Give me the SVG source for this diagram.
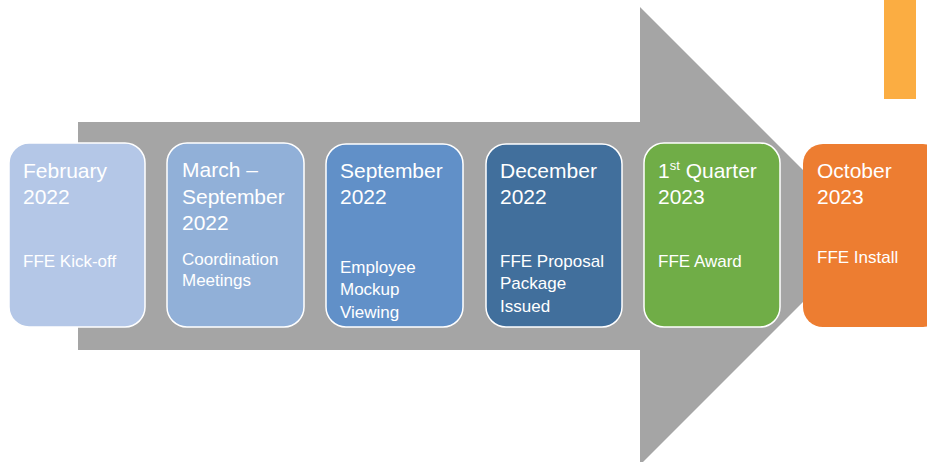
<svg xmlns="http://www.w3.org/2000/svg" width="927" height="462" viewBox="0 0 927 462">
<style>
.box{stroke:#ffffff;stroke-width:1.5}
text{font-family:"Liberation Sans",Arial,sans-serif;fill:#ffffff}
.t{font-size:21px}
.s{font-size:17px}
</style>
<rect width="927" height="462" fill="#ffffff"/>
<g id="arrow">
<polygon points="78,122 640,122 640,7 869,236 640,465 640,350 78,350" fill="#a5a5a5"/>
</g>
<rect id="accent" x="884" y="0" width="32" height="99" fill="#fbad42"/>
<g id="node1">
<rect class="box" x="9" y="143" width="136" height="184" rx="20" fill="#b4c7e7"/>
<text class="t" x="23" y="178">February</text>
<text class="t" x="23" y="204">2022</text>
<text class="s" x="23" y="267">FFE Kick-off</text>
</g>
<g id="node2">
<rect class="box" x="167" y="143" width="137" height="184" rx="20" fill="#91b0d8"/>
<text class="t" x="182" y="177">March –</text>
<text class="t" x="182" y="204">September</text>
<text class="t" x="182" y="230">2022</text>
<text class="s" x="182" y="265">Coordination</text>
<text class="s" x="182" y="286">Meetings</text>
</g>
<g id="node3">
<rect class="box" x="326" y="144" width="137" height="183" rx="20" fill="#6190c8"/>
<text class="t" x="340" y="178">September</text>
<text class="t" x="340" y="204">2022</text>
<text class="s" x="340" y="273">Employee</text>
<text class="s" x="340" y="295">Mockup</text>
<text class="s" x="340" y="318">Viewing</text>
</g>
<g id="node4">
<rect class="box" x="486" y="144" width="136" height="183" rx="20" fill="#416f9c"/>
<text class="t" x="500" y="178">December</text>
<text class="t" x="500" y="204">2022</text>
<text class="s" x="500" y="267">FFE Proposal</text>
<text class="s" x="500" y="289">Package</text>
<text class="s" x="500" y="312">Issued</text>
</g>
<g id="node5">
<rect class="box" x="644" y="143" width="136" height="184" rx="20" fill="#70ad47"/>
<text class="t" x="658" y="178">1<tspan font-size="13" dy="-8">st</tspan><tspan dy="8"> Quarter</tspan></text>
<text class="t" x="658" y="204">2023</text>
<text class="s" x="658" y="267">FFE Award</text>
</g>
<g id="node6">
<rect x="803" y="144" width="140" height="183" rx="20" fill="#ed7d31"/>
<text class="t" x="817" y="178">October</text>
<text class="t" x="817" y="204">2023</text>
<text class="s" x="817" y="263">FFE Install</text>
</g>
<g id="connectors"></g>
</svg>
